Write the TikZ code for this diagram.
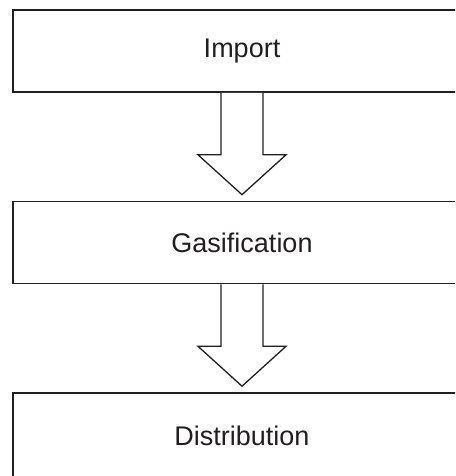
\documentclass[tikz,border=0pt]{standalone}
\usepackage{fontspec}
\setmainfont{Liberation Sans}
\usetikzlibrary{calc}
\definecolor{ink}{HTML}{231F20}
\tikzset{
  stage/.style={draw=ink, line width=1.6pt, fill=white, minimum width=458pt, minimum height=82pt, inner sep=0pt, font=\fontsize{27}{31}\selectfont, text=ink},
  hollow/.style={draw=ink, line width=1.3pt, fill=white, line join=miter},
}
\begin{document}
\begin{tikzpicture}[x=1pt, y=-1pt]
  \clip (0,0) rectangle (455,476);
  \fill[white] (0,0) rectangle (455,476);

  \node[stage] (imp) at (242,51) {Import};
  \node[stage] (gas) at (242,242.5) {Gasification};
  \node[stage, minimum height=86pt] (dist) at (242,436) {Distribution};

  % hollow block arrows between the stages
  \draw[hollow] ($(imp.south)+(-21,0)$) -- ($(imp.south)+(-21,62)$) -- ($(imp.south)+(-44,62)$)
    -- ($(gas.north)+(0,-6)$) -- ($(imp.south)+(44,62)$) -- ($(imp.south)+(21,62)$) -- ($(imp.south)+(21,0)$);
  \draw[hollow] ($(gas.south)+(-21,0)$) -- ($(gas.south)+(-21,62)$) -- ($(gas.south)+(-44,62)$)
    -- ($(dist.north)+(0,-6)$) -- ($(gas.south)+(44,62)$) -- ($(gas.south)+(21,62)$) -- ($(gas.south)+(21,0)$);
\end{tikzpicture}
\end{document}
